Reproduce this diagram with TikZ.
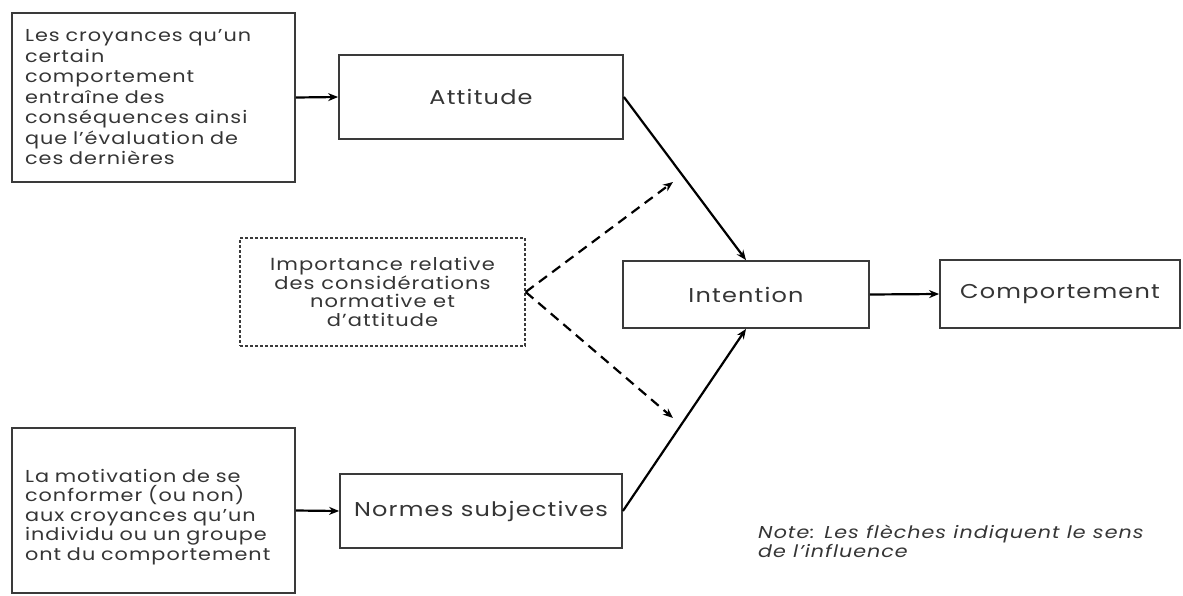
\documentclass[tikz,border=0pt]{standalone}
\usepackage{fontspec}
\setmainfont[FakeStretch=1.2, LetterSpace=6]{Poppins}
\usetikzlibrary{arrows.meta}
\definecolor{txtgray}{HTML}{353535}
\definecolor{linegray}{HTML}{3A3A3A}
\tikzset{
  box/.style={draw=linegray, line width=1.8pt, fill=white, inner sep=0pt, text=txtgray},
  dbox/.style={box, line width=1.4pt, dash pattern=on 3pt off 2pt},
  smalltxt/.style={font=\fontsize{17.3}{20.5}\selectfont},
  bigtxt/.style={font=\fontsize{20}{23}\selectfont},
  arr/.style={draw=black, line width=2.2pt, -{Stealth[length=10pt,width=8pt]}},
  darr/.style={arr, dash pattern=on 10pt off 6.5pt},
}
\begin{document}
\begin{tikzpicture}[x=1pt,y=-1pt]
\useasboundingbox[fill=white] (0,0) rectangle (1183,595);
\node[box, minimum width=283pt, minimum height=169pt, text width=257pt, align=left, smalltxt] (b1) at (153.5,97.5)
  {Les croyances qu'un\\certain\\comportement\\entraîne des\\conséquences ainsi\\que l'évaluation de\\ces dernières};
\node[box, minimum width=284pt, minimum height=84pt, bigtxt] (att) at (481,97) {Attitude};
\node[dbox, minimum width=285pt, minimum height=108pt, align=center, font=\fontsize{17.5}{18.5}\selectfont] (imp) at (382.5,292)
  {Importance relative\\des considérations\\normative et\\d'attitude};
\node[box, minimum width=246pt, minimum height=67pt, bigtxt] (int) at (746,294.5) {Intention};
\node[box, minimum width=240pt, minimum height=68pt, bigtxt] (comp) at (1060,294) {Comportement};
\node[box, minimum width=283pt, minimum height=165pt, text width=257pt, align=left, font=\fontsize{17.3}{19.5}\selectfont] (b3) at (153.5,510.5)
  {\rule{0pt}{26pt}La motivation de se\\conformer (ou non)\\aux croyances qu'un\\individu ou un groupe\\ont du comportement};
\node[box, minimum width=282pt, minimum height=74pt, bigtxt] (norm) at (481,511) {Normes subjectives};
\node[anchor=north west, inner sep=0pt, align=left, text=txtgray, font=\itshape\fontsize{17.2}{19}\selectfont] (note) at (758,525)
  {Note: Les flèches indiquent le sens\\de l'influence};
\coordinate (dup) at (673,182);
\coordinate (ddn) at (673,418);
\draw[arr] (b1.east) -- (att.west);
\draw[arr] (b3.east) -- (norm.west);
\draw[arr] (int.east) -- (comp.west);
\draw[arr] (att.east) -- (int.north);
\draw[arr] (norm.east) -- (int.south);
\draw[darr] (imp.east) -- (dup);
\draw[darr] (imp.east) -- (ddn);
\end{tikzpicture}
\end{document}
